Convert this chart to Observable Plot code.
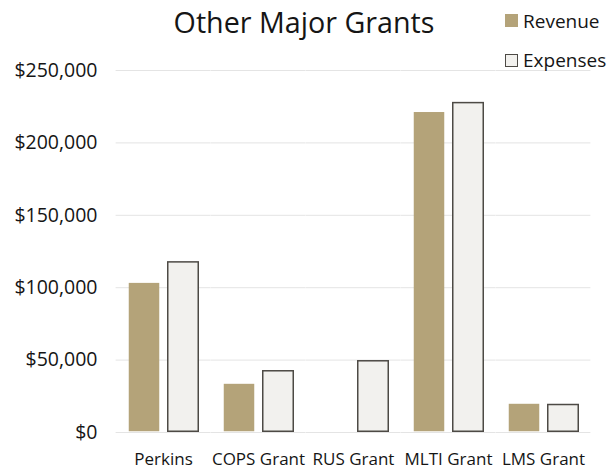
<!DOCTYPE html>
<html>
<head>
<meta charset="utf-8">
<script src="https://cdn.jsdelivr.net/npm/d3@7"></script>
<script src="https://cdn.jsdelivr.net/npm/@observablehq/plot@0.6"></script>
<style>
  html, body { margin: 0; padding: 0; background: #fff; }
  #wrap { position: relative; width: 616px; height: 469px; font-family: "Open Sans", Lato, sans-serif; color: #151515; }
  #title { position: absolute; left: -4px; width: 616px; top: 2px; text-align: center; font-size: 28.7px; line-height: 40px; }
  #legend { position: absolute; left: 505px; top: 6px; font-size: 19px; }
  .item { display: flex; align-items: center; height: 29px; margin-bottom: 10.5px; }
  .sw { width: 13px; height: 13px; margin-right: 5px; box-sizing: border-box; }
  svg { position: absolute; left: 0; top: 0; }
</style>
</head>
<body>
<div id="wrap">
  <div id="chart"></div>
  <div id="title">Other Major Grants</div>
  <div id="legend"></div>
</div>
<script>
// Grant programs and their revenue / expense totals (USD)
const grants = ["Perkins", "COPS Grant", "RUS Grant", "MLTI Grant", "LMS Grant"];
const series = ["Revenue", "Expenses"];
const revenue = [103500, 33800, 0, 221500, 20000];
const expenses = [118000, 42800, 49700, 228000, 19500];
const yTicks = [0, 50000, 100000, 150000, 200000, 250000];

const colors = { Revenue: "#b4a379", Expenses: "#f2f1ee" };
const strokes = { Revenue: "none", Expenses: "#4d4a45" };

const rows = grants.flatMap((g, i) => [
  { grant: g, series: "Revenue", value: revenue[i] },
  { grant: g, series: "Expenses", value: expenses[i] }
]).filter(d => d.value > 0);

const fmt = d3.format("$,");
const fxPadInner = 0.24, fxPadOuter = 0.12;
const plotWidth = 616 - 116 - 25;
const step = plotWidth / (grants.length - fxPadInner + 2 * fxPadOuter);
const halfGap = step * fxPadInner / 2; // gridlines bridge the space between groups

const chart = Plot.plot({
  width: 616,
  height: 469,
  marginTop: 70,
  marginBottom: 37,
  marginLeft: 116,
  marginRight: 25,
  style: { fontFamily: "'Open Sans', Lato, sans-serif", fontSize: "17px", color: "#151515", background: "transparent" },
  fx: { domain: grants, paddingInner: fxPadInner, paddingOuter: fxPadOuter, label: null, axis: "bottom", tickSize: 0, tickPadding: 20 },
  x: { domain: series, paddingInner: 0.18, paddingOuter: 0, axis: null },
  y: { domain: [0, 250000], label: null },
  marks: [
    Plot.ruleY(yTicks, { stroke: "#e4e4e4", strokeOpacity: 1, insetLeft: -halfGap, insetRight: -halfGap }),
    Plot.axisY({ ticks: yTicks, tickFormat: fmt, tickSize: 0, tickPadding: 19, dx: -11, fontSize: 19.5, label: null }),
    Plot.barY(rows, {
      fx: "grant",
      x: "series",
      y: "value",
      fill: d => colors[d.series],
      stroke: d => strokes[d.series],
      strokeWidth: 1.5,
      inset: 0.75
    })
  ]
});
document.getElementById("chart").appendChild(chart);

// Legend entries for the two series
const legend = d3.select("#legend");
for (const s of series) {
  const item = legend.append("div").attr("class", "item");
  item.append("div").attr("class", "sw")
    .style("background", colors[s])
    .style("border", s === "Expenses" ? "1.5px solid #4d4a45" : "none");
  item.append("span").text(s);
}
</script>
</body>
</html>
